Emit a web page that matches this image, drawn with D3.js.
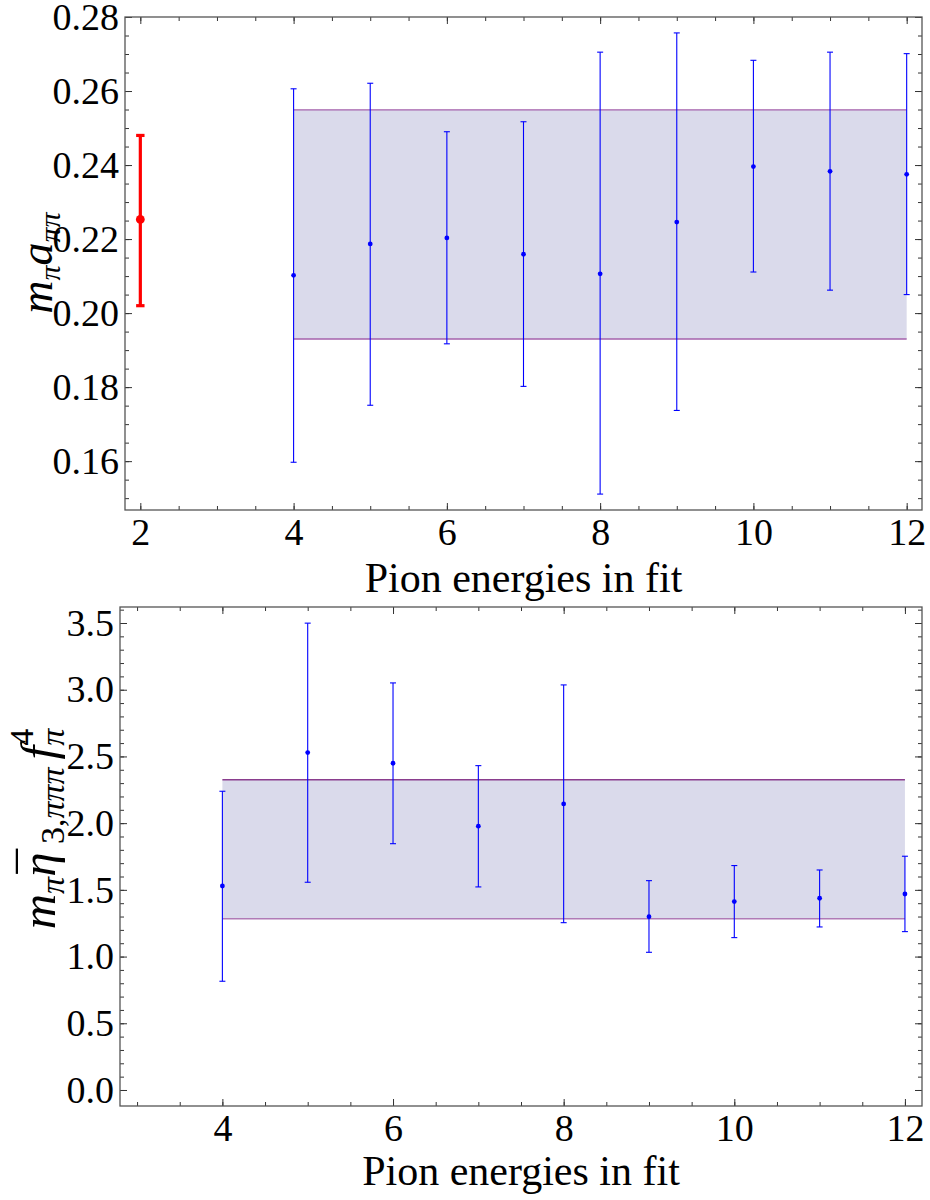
<!DOCTYPE html>
<html><head><meta charset="utf-8">
<script src="https://cdn.jsdelivr.net/npm/d3@7"></script>
<style>body{margin:0;background:#fff}</style>
</head><body>
<svg id="c" width="930" height="1200"></svg>
<script>
// ---------- data ----------
const topX   = [4, 5, 6, 7, 8, 9, 10, 11, 12];
const topY   = [0.2102, 0.2187, 0.2203, 0.2159, 0.2106, 0.2246, 0.2396, 0.2383, 0.2375];
const topLo  = [0.1597, 0.1751, 0.1917, 0.1802, 0.1511, 0.1737, 0.2111, 0.2062, 0.2050];
const topHi  = [0.2606, 0.2621, 0.2490, 0.2517, 0.2705, 0.2757, 0.2683, 0.2705, 0.2701];
const redX   = [2];
const redY   = [0.2253];
const redLo  = [0.2020];
const redHi  = [0.2480];
const topBandX = [4, 12];
const topBand  = [0.1930, 0.2549];

const botX   = [4, 5, 6, 7, 8, 9, 10, 11, 12];
const botY   = [1.529, 2.529, 2.449, 1.977, 2.144, 1.299, 1.412, 1.437, 1.469];
const botLo  = [0.815, 1.557, 1.846, 1.522, 1.254, 1.032, 1.142, 1.222, 1.187];
const botHi  = [2.239, 3.499, 3.051, 2.431, 3.036, 1.569, 1.682, 1.649, 1.752];
const botBandX = [4, 12];
const botBand  = [1.283, 2.325];

const topXTicks = [2, 4, 6, 8, 10, 12];
const topYTicks = [0.16, 0.18, 0.20, 0.22, 0.24, 0.26, 0.28];
const topYLabels = ["0.16", "0.18", "0.20", "0.22", "0.24", "0.26", "0.28"];
const botXTicks = [4, 6, 8, 10, 12];
const botYTicks = [0.0, 0.5, 1.0, 1.5, 2.0, 2.5, 3.0, 3.5];
const botYLabels = ["0.0", "0.5", "1.0", "1.5", "2.0", "2.5", "3.0", "3.5"];
const xTitle = "Pion energies in fit";

// ---------- drawing ----------
const FONT = '"Liberation Serif"';
const svg = d3.select("#c");
const BLUE = "#0000ff", RED = "#ff0000";
const FILL = "#dadaeb", EDGE = "#a461ab";
const FRAME = "#555";

function range(a, b, s) { const r = []; for (let v = a; v <= b + 1e-9; v += s) r.push(+v.toFixed(6)); return r; }

function panel(o) {
  const g = svg.append("g");
  const x = d3.scaleLinear().domain(o.xDom).range([o.L, o.R]);
  const y = d3.scaleLinear().domain(o.yDom).range([o.B, o.T]);

  // band
  const bx0 = x(o.bandX[0]), bx1 = x(o.bandX[1]);
  g.append("rect").attr("x", bx0).attr("y", y(o.band[1]))
    .attr("width", bx1 - bx0).attr("height", y(o.band[0]) - y(o.band[1]))
    .attr("fill", FILL);
  o.band.forEach((v, i) => {
    g.append("line").attr("x1", bx0).attr("x2", bx1).attr("y1", y(v)).attr("y2", y(v))
      .attr("stroke", i === 1 ? o.edgeTop : o.edgeBot).attr("stroke-width", 1.4);
  });

  // axes
  const minorX = range(Math.ceil(o.xDom[0] * 2) / 2, o.xDom[1], 0.5);
  const minorY = o.yMinor;
  function styl(sel) {
    sel.select(".domain").remove();
    sel.selectAll("line").attr("stroke", "#333").attr("stroke-width", 1);
    sel.attr("font-family", null).attr("font-size", null);
    sel.selectAll("text").attr("fill", "#000").style("font-family", FONT).style("font-size", o.fs + "px");
  }
  g.append("g").attr("transform", `translate(0,${o.B})`)
    .call(d3.axisBottom(x).tickValues(minorX).tickSize(-4).tickFormat("")).call(styl);
  g.append("g").attr("transform", `translate(0,${o.B})`)
    .call(d3.axisBottom(x).tickValues(o.xTicks).tickSize(-7).tickPadding(8).tickFormat(d3.format("d"))).call(styl);
  g.append("g").attr("transform", `translate(0,${o.T})`)
    .call(d3.axisTop(x).tickValues(minorX).tickSize(-4).tickFormat("")).call(styl);
  g.append("g").attr("transform", `translate(0,${o.T})`)
    .call(d3.axisTop(x).tickValues(o.xTicks).tickSize(-7).tickFormat("")).call(styl);
  g.append("g").attr("transform", `translate(${o.L},0)`)
    .call(d3.axisLeft(y).tickValues(minorY).tickSize(-4).tickFormat("")).call(styl);
  g.append("g").attr("transform", `translate(${o.L},0)`)
    .call(d3.axisLeft(y).tickValues(o.yTicks).tickSize(-7).tickPadding(6)
      .tickFormat((d, i) => o.yLabels[i])).call(styl);
  g.append("g").attr("transform", `translate(${o.R},0)`)
    .call(d3.axisRight(y).tickValues(minorY).tickSize(-4).tickFormat("")).call(styl);
  g.append("g").attr("transform", `translate(${o.R},0)`)
    .call(d3.axisRight(y).tickValues(o.yTicks).tickSize(-7).tickFormat("")).call(styl);

  g.append("rect").attr("x", o.L).attr("y", o.T).attr("width", o.R - o.L).attr("height", o.B - o.T)
    .attr("fill", "none").attr("stroke", FRAME).attr("stroke-width", 1.3);

  // error bars
  function bars(xs, ys, lo, hi, col, sw, cap, r) {
    xs.forEach((xv, i) => {
      const px = x(xv);
      g.append("line").attr("x1", px).attr("x2", px).attr("y1", y(lo[i])).attr("y2", y(hi[i]))
        .attr("stroke", col).attr("stroke-width", sw);
      [lo[i], hi[i]].forEach(v => g.append("line").attr("x1", px - cap).attr("x2", px + cap)
        .attr("y1", y(v)).attr("y2", y(v)).attr("stroke", col).attr("stroke-width", sw));
      g.append("circle").attr("cx", px).attr("cy", y(ys[i])).attr("r", r).attr("fill", col);
    });
  }
  bars(o.xs, o.ys, o.lo, o.hi, BLUE, 1.1, 3, 2.4);
  if (o.red) bars(o.red.x, o.red.y, o.red.lo, o.red.hi, RED, 3.2, 4.2, 4.4);

  // x title
  g.append("text").attr("x", (o.L + o.R) / 2).attr("y", o.xTitleY).attr("text-anchor", "middle")
    .style("font-family", FONT).style("font-size", o.tfs + "px").attr("fill", "#000").text(xTitle);
  return g;
}

panel({
  L: 125, R: 922, T: 17, B: 510,
  xDom: [1.8, 12.2], yDom: [0.1468, 0.28],
  xTicks: topXTicks, yTicks: topYTicks, yLabels: topYLabels,
  yMinor: range(0.15, 0.28, 0.005),
  xs: topX, ys: topY, lo: topLo, hi: topHi,
  red: { x: redX, y: redY, lo: redLo, hi: redHi },
  bandX: topBandX, band: topBand, edgeTop: EDGE, edgeBot: EDGE,
  fs: 38, tfs: 42, xTitleY: 592
});
panel({
  L: 120, R: 922, T: 607, B: 1106,
  xDom: [2.8, 12.2], yDom: [-0.12, 3.62],
  xTicks: botXTicks, yTicks: botYTicks, yLabels: botYLabels,
  yMinor: range(0, 3.6, 0.1),
  xs: botX, ys: botY, lo: botLo, hi: botHi,
  red: null,
  bandX: botBandX, band: botBand, edgeTop: "#8a3d8e", edgeBot: "#b07ab6",
  fs: 38, tfs: 42, xTitleY: 1185
});

// y titles
function ytitle(tx, ty, fs) {
  return svg.append("text").attr("transform", `translate(${tx},${ty}) rotate(-90)`)
    .attr("text-anchor", "middle").attr("fill", "#000")
    .style("font-family", FONT).style("font-size", fs + "px");
}
const t1 = ytitle(52, 263, 46);
t1.append("tspan").style("font-style", "italic").text("m");
t1.append("tspan").style("font-style", "italic").style("font-size", "30px").attr("dy", 8).text("π");
t1.append("tspan").style("font-style", "italic").attr("dy", -8).text("a");
t1.append("tspan").style("font-style", "italic").style("font-size", "30px").attr("dy", 8).text("ππ");

const SUB = "34px";
const t2 = ytitle(55, 829, 49);
t2.append("tspan").style("font-style", "italic").text("m");
t2.append("tspan").style("font-style", "italic").style("font-size", SUB).attr("dy", 9).text("π");
t2.append("tspan").style("font-style", "italic").attr("dy", -9).text("η");
t2.append("tspan").attr("dx", -21).attr("dy", -2).text("\u00AF");
t2.append("tspan").style("font-size", SUB).attr("dx", 5).attr("dy", 11).text("3,");
t2.append("tspan").style("font-style", "italic").style("font-size", SUB).text("πππ");
t2.append("tspan").style("font-style", "italic").attr("dx", 8).attr("dy", -9).text("f");
t2.append("tspan").style("font-style", "italic").style("font-size", SUB).attr("dy", 9).text("π");
t2.append("tspan").style("font-size", SUB).attr("dx", -17).attr("dy", -31).text("4");
</script>
</body></html>
